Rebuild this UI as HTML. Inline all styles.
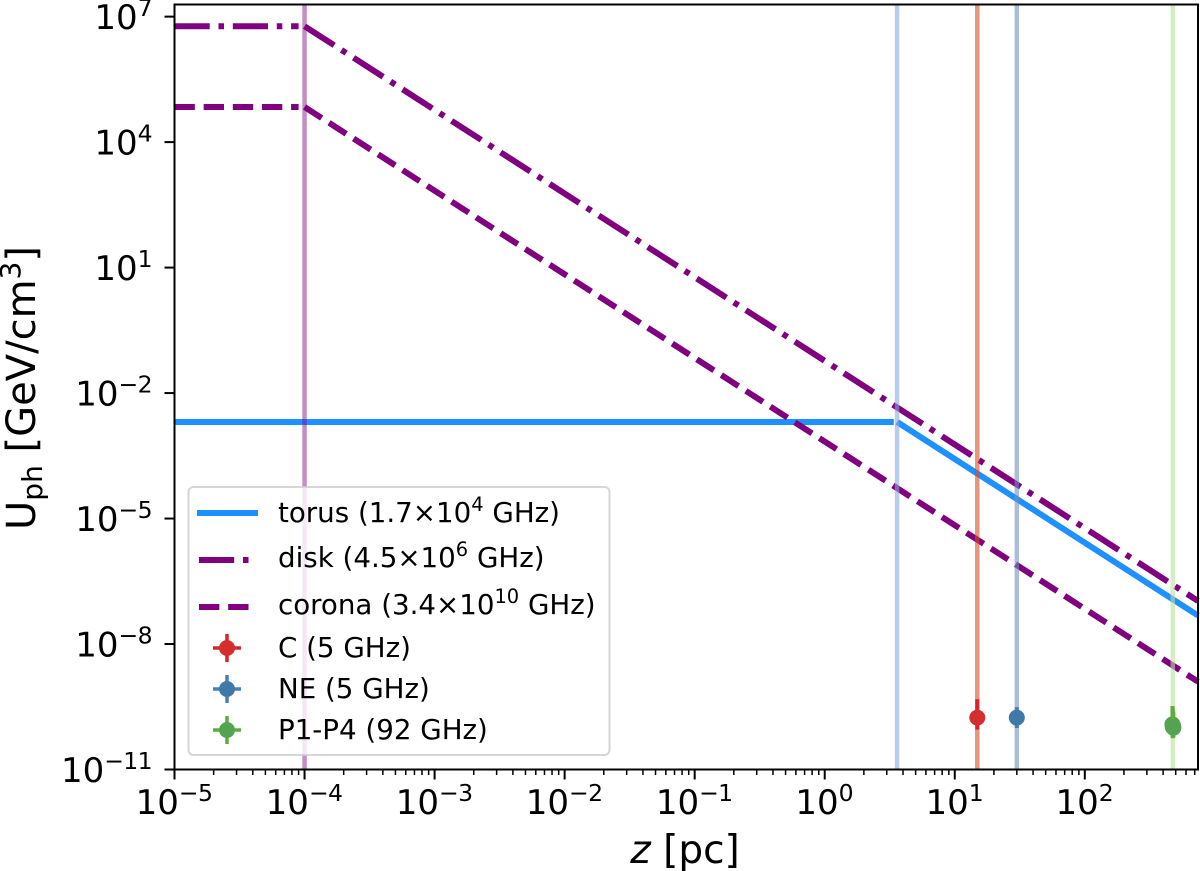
<!DOCTYPE html>
<html lang="en">
<head>
<meta charset="utf-8">
<title>Photon energy density versus distance</title>
<style>
html,body{margin:0;padding:0;background:#fff;}
svg{display:block;font-family:"DejaVu Sans","Liberation Sans",sans-serif;}
</style>
</head>
<body>
<svg id="chart" xmlns="http://www.w3.org/2000/svg" width="1200" height="871" viewBox="0 0 1200 871"></svg>
<script>
// ---- chart data ----
const xTickExponents = [-5, -4, -3, -2, -1, 0, 1, 2];
const yTickExponents = [7, 4, 1, -2, -5, -8, -11];
const xDomain = [1e-5, 742];
const yDomain = [1e-11, 1.95e7];

const torusPlateauZ = [1e-5, 3.4];
const torusPlateauU = [2.04e-3, 2.04e-3];
const torusSlopeZ = [3.6, 742];
const torusSlopeU = [2.04e-3, 4.8e-8];

const diskPlateauZ = [1e-5, 9e-5];
const diskPlateauU = [5.9e6, 5.9e6];
const diskSlopeZ = [1e-4, 742];
const diskSlopeU = [5.9e6, 1.07e-7];

const coronaPlateauZ = [1e-5, 9e-5];
const coronaPlateauU = [6.9e4, 6.9e4];
const coronaSlopeZ = [1e-4, 742];
const coronaSlopeU = [6.9e4, 1.26e-9];

const markerZ = [1e-4, 3.6, 14.9, 30, 475];
const markerNames = ['inner-radius', 'torus-radius', 'c-knot', 'ne-knot', 'p1-p4-knot'];

const cZ = [14.9];
const cU = [1.74e-10];
const cLow = [9e-11];
const cHigh = [4.8e-10];

const neZ = [30];
const neU = [1.74e-10];
const neLow = [9.8e-11];
const neHigh = [3.1e-10];

const pZ = [472, 474, 477, 480];
const pU = [1.2e-10, 1.05e-10, 1.1e-10, 1.0e-10];
const pLow = [6e-11, 5.6e-11, 6e-11, 5.8e-11];
const pHigh = [3.3e-10, 3.0e-10, 2.6e-10, 2.4e-10];

// ---- frame and scales ----
const NS = 'http://www.w3.org/2000/svg';
const svg = document.getElementById('chart');
const plotLeft = 174.5, plotRight = 1198, plotTop = 4.5, plotBottom = 769.5;
const LW = 6;
const DASHDOT = '35.2 8.8 5.5 8.8';
const DASHED = '20.35 8.8';

function xScale(z) {
  const a = Math.log10(xDomain[0]), b = Math.log10(xDomain[1]);
  return plotLeft + (Math.log10(z) - a) / (b - a) * (plotRight - plotLeft);
}
function yScale(u) {
  const a = Math.log10(yDomain[0]), b = Math.log10(yDomain[1]);
  return plotBottom - (Math.log10(u) - a) / (b - a) * (plotBottom - plotTop);
}
function make(tag, attrs, parent) {
  const el = document.createElementNS(NS, tag);
  for (const k in attrs) el.setAttribute(k, attrs[k]);
  (parent || svg).appendChild(el);
  return el;
}
function group(name) {
  const g = make('g', {});
  
  
  return g;
}
function polyline(parent, name, zs, us, color, dash) {
  const pts = zs.map((z, i) => xScale(z).toFixed(2) + ',' + yScale(us[i]).toFixed(2)).join(' ');
  const attrs = {points: pts, fill: 'none', stroke: color, 'stroke-width': LW};
  if (dash) attrs['stroke-dasharray'] = dash;
  const el = make('polyline', attrs, parent);
  
  
  return el;
}
function powerLabel(parent, name, exponent, x, y, anchor) {
  const t = make('text', {x: x, y: y, 'font-size': 34, 'text-anchor': anchor, fill: '#000'}, parent);
  
  
  t.appendChild(document.createTextNode('10'));
  const s = make('tspan', {dy: -13, 'font-size': 23.5, 'letter-spacing': -0.6}, t);
  s.textContent = String(exponent).replace('-', '\u2212');
  return t;
}

// ---- series ----
const seriesGroup = group('series-lines');
polyline(seriesGroup, 'torus-plateau-line', torusPlateauZ, torusPlateauU, '#1e90ff');
polyline(seriesGroup, 'torus-slope-line', torusSlopeZ, torusSlopeU, '#1e90ff');
polyline(seriesGroup, 'disk-plateau-line', diskPlateauZ, diskPlateauU, '#800080', DASHDOT);
polyline(seriesGroup, 'disk-slope-line', diskSlopeZ, diskSlopeU, '#800080', DASHDOT);
polyline(seriesGroup, 'corona-plateau-line', coronaPlateauZ, coronaPlateauU, '#800080', DASHED);
polyline(seriesGroup, 'corona-slope-line', coronaSlopeZ, coronaSlopeU, '#800080', DASHED);

// ---- vertical reference lines ----
const markerColors = ['#800080', '#89aadf', '#d94e25', '#7191c3', '#b9df9d'];
const markerOpacity = [0.45, 0.6, 0.6, 0.6, 0.6];
const vlineGroup = group('vertical-reference-lines');
markerZ.forEach((z, i) => {
  const x = xScale(z);
  const l = make('line', {x1: x, x2: x, y1: plotTop, y2: plotBottom, stroke: markerColors[i], 'stroke-opacity': markerOpacity[i], 'stroke-width': 4.5}, vlineGroup);
  
  
});

// ---- measured points ----
function points(name, zs, us, lows, highs, barColor, dotColor) {
  const g = group(name);
  zs.forEach((z, i) => {
    const x = xScale(z);
    const bar = make('line', {x1: x, x2: x, y1: yScale(lows[i]), y2: yScale(highs[i]), stroke: barColor, 'stroke-width': 4}, g);
    
    
    const dot = make('circle', {cx: x, cy: yScale(us[i]), r: 8, fill: dotColor}, g);
    
    
  });
}
points('c-knot', cZ, cU, cLow, cHigh, '#d62728', '#d32f2f');
points('ne-knot', neZ, neU, neLow, neHigh, '#4682b4', '#4078a8');
points('p1-p4-knot', pZ, pU, pLow, pHigh, '#5aaf3c', '#54a350');

// ---- axes ----
const axisGroup = group('axes');
const frame = make('rect', {x: plotLeft, y: plotTop, width: plotRight - plotLeft, height: plotBottom - plotTop, fill: 'none', stroke: '#000', 'stroke-width': 2}, axisGroup);



const xTicks = group('x-axis-ticks');
xTickExponents.forEach(e => {
  const x = xScale(Math.pow(10, e));
  const t = make('line', {x1: x, x2: x, y1: plotBottom, y2: plotBottom + 10, stroke: '#000', 'stroke-width': 2}, xTicks);
  
  
  powerLabel(xTicks, 'x-tick-label', e, x - 0.5, 814, 'middle');
  for (let m = 2; m <= 9; m++) {
    const v = m * Math.pow(10, e);
    if (v > xDomain[1]) break;
    const mx = xScale(v);
    const mt = make('line', {x1: mx, x2: mx, y1: plotBottom, y2: plotBottom + 5.5, stroke: '#000', 'stroke-width': 1.5}, xTicks);
    
    
  }
});

const yTicks = group('y-axis-ticks');
yTickExponents.forEach(e => {
  const y = yScale(Math.pow(10, e));
  const t = make('line', {x1: plotLeft - 10, x2: plotLeft, y1: y, y2: y, stroke: '#000', 'stroke-width': 2}, yTicks);
  
  
  powerLabel(yTicks, 'y-tick-label', e, 152, y + 12.5, 'end');
});

const xTitle = make('text', {x: 685, y: 863, 'font-size': 39, 'text-anchor': 'middle', fill: '#000'});


const xTitleZ = make('tspan', {'font-style': 'italic'}, xTitle);
xTitleZ.textContent = 'z';
xTitle.appendChild(document.createTextNode(' [pc]'));

const yTitle = make('text', {transform: 'translate(35,388) rotate(-90)', 'font-size': 40, 'text-anchor': 'middle', fill: '#000'});


yTitle.appendChild(document.createTextNode('U'));
const ySub = make('tspan', {dy: 7, 'font-size': 28}, yTitle);
ySub.textContent = 'ph';
const yRest = make('tspan', {dy: -7}, yTitle);
yRest.textContent = ' [GeV/cm';
const ySup = make('tspan', {dy: -15, 'font-size': 28}, yTitle);
ySup.textContent = '3';
const yEnd = make('tspan', {dy: 15}, yTitle);
yEnd.textContent = ']';

// ---- legend ----
const legend = group('legend');
const legendBox = make('rect', {x: 188.5, y: 487, width: 421, height: 268, rx: 5, fill: '#fff', 'fill-opacity': 0.8, stroke: '#ccc', 'stroke-opacity': 0.8, 'stroke-width': 2}, legend);



function legendText(name, before, sup, after, baseline) {
  const t = make('text', {x: 278, y: baseline, 'font-size': 27.7, fill: '#000'}, legend);
  
  
  t.appendChild(document.createTextNode(before));
  if (sup) {
    const s = make('tspan', {dy: -11, 'font-size': 19.4}, t);
    s.textContent = sup;
    const a = make('tspan', {dy: 11}, t);
    a.textContent = after;
  }
}
function legendLine(name, y, color, x1, x2, dash) {
  const attrs = {x1: x1, x2: x2, y1: y, y2: y, stroke: color, 'stroke-width': LW};
  if (dash) attrs['stroke-dasharray'] = dash;
  const l = make('line', attrs, legend);
  
  
}
function legendPoint(name, y, barColor, dotColor) {
  const cx = 227;
  const h = make('line', {x1: cx - 14, x2: cx + 14, y1: y, y2: y, stroke: barColor, 'stroke-width': 3.5}, legend);
  
  
  const v = make('line', {x1: cx, x2: cx, y1: y - 14, y2: y + 14, stroke: barColor, 'stroke-width': 3.5}, legend);
  
  
  const d = make('circle', {cx: cx, cy: y, r: 8, fill: dotColor}, legend);
  
  
}
legendLine('legend-torus-line', 513, '#1e90ff', 197, 258);
legendText('legend-torus-label', 'torus (1.7\u00d710', '4', ' GHz)', 522);
legendLine('legend-disk-line', 560, '#800080', 199, 250, DASHDOT);
legendText('legend-disk-label', 'disk (4.5\u00d710', '6', ' GHz)', 567);
legendLine('legend-corona-line', 607, '#800080', 199, 250, DASHED);
legendText('legend-corona-label', 'corona (3.4\u00d710', '10', ' GHz)', 614);
legendPoint('legend-c-marker', 648, '#d62728', '#d32f2f');
legendText('legend-c-label', 'C (5 GHz)', '', '', 657);
legendPoint('legend-ne-marker', 689, '#4682b4', '#4078a8');
legendText('legend-ne-label', 'NE (5 GHz)', '', '', 698);
legendPoint('legend-p1-p4-marker', 730, '#5aaf3c', '#54a350');
legendText('legend-p1-p4-label', 'P1-P4 (92 GHz)', '', '', 739);
</script>
</body>
</html>
